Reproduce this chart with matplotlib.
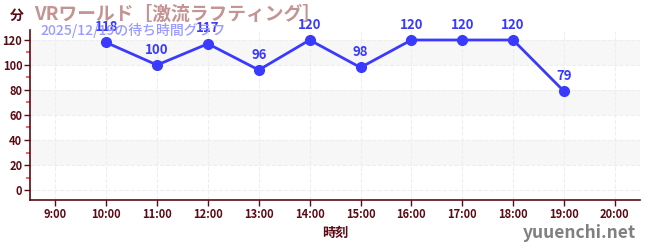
import matplotlib
matplotlib.use('Agg')
import matplotlib.pyplot as plt

plt.rcParams['font.family'] = ['Noto Sans CJK JP', 'DejaVu Sans']

# data
hours = [10, 11, 12, 13, 14, 15, 16, 17, 18, 19]
waits = [118, 100, 117, 96, 120, 98, 120, 120, 120, 79]
tick_hours = list(range(9, 21))
tick_labels = ['{}:00'.format(h) for h in tick_hours]
y_ticks = [0, 20, 40, 60, 80, 100, 120]

title = 'VRワールド［激流ラフティング］'
subtitle = '2025/12/19の待ち時間グラフ'

dark = '#5a0a14'
line_col = '#3a3aff'

fig = plt.figure(figsize=(6.5, 2.5), dpi=100)
ax = fig.add_axes([0.046, 0.2, 0.939, 0.68])

# alternating background bands
for lo in (20, 60, 100):
    ax.axhspan(lo, lo + 20, color='#f7f7f7', zorder=0, lw=0)

ax.plot(hours, waits, color=line_col, lw=2, marker='o', ms=7, zorder=3)
for h, w in zip(hours, waits):
    ax.annotate(str(w), (h, w), xytext=(0, 6), textcoords='offset points',
                ha='center', va='bottom', color=line_col, fontsize=9.5,
                fontweight='bold', zorder=4)

ax.set_xlim(8.5, 20.5)
ax.set_ylim(-8, 128)
ax.set_xticks(tick_hours)
ax.set_xticklabels(tick_labels)
ax.set_yticks(y_ticks)
ax.set_yticks(range(10, 130, 20), minor=True)
ax.tick_params(axis='both', colors=dark, labelsize=8, length=4, width=1, pad=1.5)
ax.tick_params(axis='y', which='minor', colors='#ee6666', length=3, width=1.5)
for lab in ax.get_xticklabels() + ax.get_yticklabels():
    lab.set_fontweight('bold')
    lab.set_color(dark)

ax.grid(True, which='major', color='#eeeeee', ls='--', lw=0.8, zorder=1)
for side in ('top', 'right'):
    ax.spines[side].set_visible(False)
for side in ('left', 'bottom'):
    ax.spines[side].set_color(dark)
    ax.spines[side].set_linewidth(1.2)

ax.set_xlabel('時刻', color=dark, fontsize=9.5, fontweight='bold', labelpad=4)

fig.text(0.016, 0.935, '分', color=dark, fontsize=10, fontweight='bold', va='center')
fig.text(0.052, 0.945, title, color='#c49494', fontsize=13.5, fontweight='bold', va='center')
fig.text(0.062, 0.88, subtitle, color='#9a9aff', fontsize=10, fontweight='medium', va='center')
fig.text(0.978, 0.07, 'yuuenchi.net', color='#808080', fontsize=12.5,
         fontweight='bold', ha='right', va='center')

fig.savefig('out.png', dpi=100)
